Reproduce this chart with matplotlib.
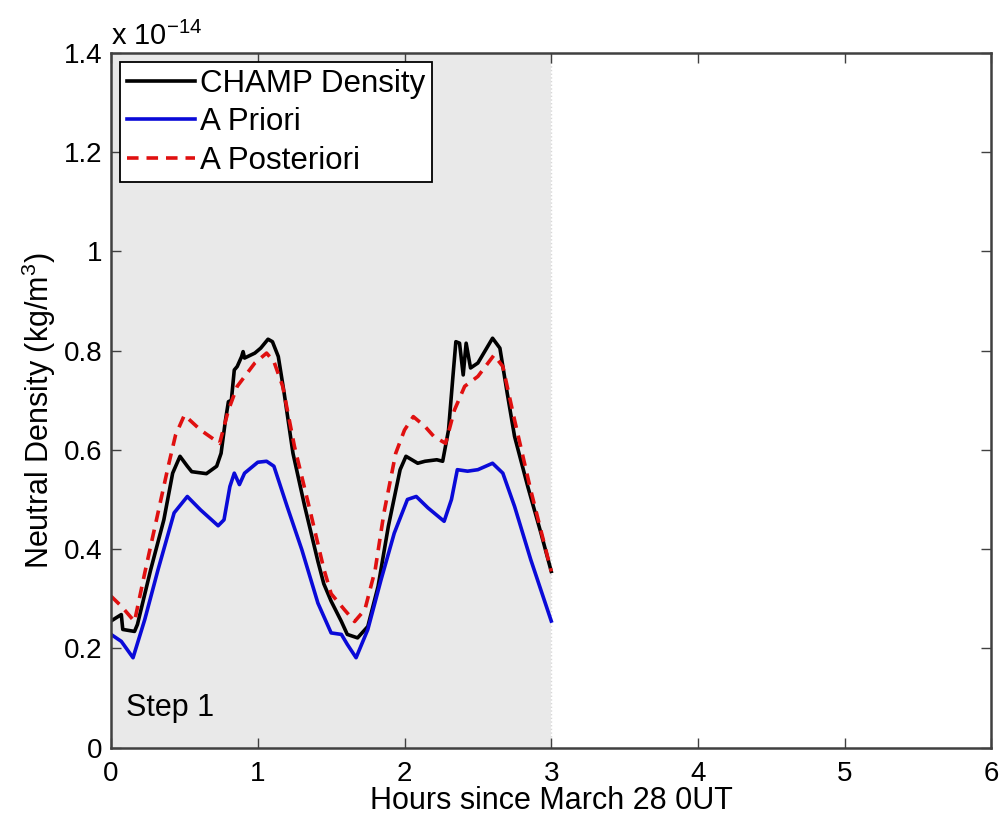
import numpy as np
import matplotlib
matplotlib.use('Agg')
import matplotlib.pyplot as plt

plt.rcParams['font.family'] = ['Liberation Sans', 'DejaVu Sans']
plt.rcParams['mathtext.fontset'] = 'custom'
plt.rcParams['mathtext.rm'] = 'Liberation Sans'
plt.rcParams['mathtext.it'] = 'Liberation Sans'

# density in units of 1e-14 kg/m^3, hours since March 28 0UT
champ_h = [0, 0.07, 0.08, 0.16, 0.18, 0.27, 0.36, 0.42, 0.47, 0.52, 0.55, 0.65, 0.72, 0.75, 0.78,
           0.80, 0.82, 0.84, 0.86, 0.89, 0.90, 0.91, 0.98, 1.02, 1.07, 1.10, 1.14, 1.18, 1.24, 1.32,
           1.41, 1.45, 1.50, 1.57, 1.61, 1.68, 1.75, 1.82, 1.89, 1.97, 2.01, 2.09, 2.14, 2.22, 2.26,
           2.30, 2.33, 2.35, 2.375, 2.40, 2.42, 2.45, 2.50, 2.60, 2.65, 2.70, 2.75, 2.84, 2.93, 3.0]
champ_v = [0.255, 0.268, 0.238, 0.234, 0.248, 0.358, 0.459, 0.553, 0.587, 0.567, 0.556, 0.552, 0.567,
           0.593, 0.66, 0.697, 0.70, 0.761, 0.768, 0.788, 0.798, 0.785, 0.795, 0.805, 0.823, 0.818,
           0.788, 0.714, 0.593, 0.486, 0.375, 0.33, 0.295, 0.254, 0.228, 0.221, 0.244, 0.325, 0.446,
           0.56, 0.587, 0.573, 0.577, 0.58, 0.577, 0.64, 0.748, 0.818, 0.815, 0.751, 0.815, 0.765,
           0.775, 0.825, 0.805, 0.714, 0.627, 0.526, 0.432, 0.355]

prior_h = [0, 0.07, 0.15, 0.23, 0.32, 0.43, 0.52, 0.61, 0.73, 0.77, 0.81, 0.84, 0.875, 0.91, 1.0,
           1.06, 1.11, 1.20, 1.30, 1.41, 1.50, 1.57, 1.61, 1.67, 1.75, 1.84, 1.93, 2.02, 2.08, 2.16,
           2.27, 2.32, 2.36, 2.43, 2.50, 2.60, 2.67, 2.75, 2.86, 3.0]
prior_v = [0.228, 0.214, 0.181, 0.258, 0.358, 0.473, 0.506, 0.479, 0.447, 0.459, 0.526, 0.553, 0.53,
           0.553, 0.575, 0.577, 0.567, 0.486, 0.399, 0.291, 0.231, 0.228, 0.208, 0.181, 0.238, 0.338,
           0.432, 0.50, 0.506, 0.483, 0.456, 0.50, 0.56, 0.557, 0.56, 0.573, 0.553, 0.486, 0.379, 0.255]

post_h = [0, 0.07, 0.16, 0.23, 0.30, 0.39, 0.44, 0.50, 0.61, 0.74, 0.80, 0.86, 0.98, 1.06, 1.11,
          1.17, 1.25, 1.36, 1.45, 1.50, 1.59, 1.66, 1.73, 1.80, 1.86, 1.94, 2.0, 2.06, 2.14, 2.20,
          2.28, 2.34, 2.41, 2.50, 2.61, 2.67, 2.75, 2.86, 3.0]
post_v = [0.305, 0.285, 0.254, 0.352, 0.446, 0.567, 0.63, 0.67, 0.64, 0.613, 0.68, 0.728, 0.775,
          0.795, 0.778, 0.728, 0.607, 0.473, 0.36, 0.31, 0.278, 0.254, 0.278, 0.358, 0.473, 0.593,
          0.64, 0.667, 0.647, 0.627, 0.613, 0.68, 0.728, 0.748, 0.791, 0.768, 0.66, 0.519, 0.355]

step_end = 3

fig = plt.figure(figsize=(10.02, 8.22), dpi=100)
ax = fig.add_axes([0.1108, 0.0906, 0.8787, 0.845])

ax.axvspan(0, step_end, color='#e9e9e9', zorder=0, lw=0)
ax.axvline(step_end, color='#d8d8d8', ls=':', lw=1, zorder=0.5)

ax.plot(champ_h, champ_v, color='black', lw=2.6, label='CHAMP Density')
ax.plot(prior_h, prior_v, color='#0a0ad8', lw=2.6, label='A Priori')
ax.plot(post_h, post_v, color='#e01010', lw=2.6, ls=(0, (3.2, 2.2)), label='A Posteriori')

ax.set_xlim(0, 6)
ax.set_ylim(0, 1.4)
ax.set_xticks(range(0, 7))
ax.set_yticks(np.arange(0, 1.41, 0.2))
ax.set_yticklabels(['0', '0.2', '0.4', '0.6', '0.8', '1', '1.2', '1.4'])
ax.tick_params(direction='in', top=True, right=True, length=7, width=1, labelsize=20,
               color='#404040')
ax.tick_params(axis='x', pad=10)
ax.tick_params(axis='y', pad=6)
for s in ax.spines.values():
    s.set_color('#404040')
    s.set_linewidth(1.8)

ax.set_xlabel('Hours since March 28 0UT', fontsize=22, labelpad=-1)
ax.set_ylabel('Neutral Density (kg/m$^3$)', fontsize=22)
ax.yaxis.set_label_coords(-0.06, 0.485)

ax.text(0.0, 1.003, r'x 10$^{-14}$', transform=ax.transAxes, fontsize=21, va='bottom', ha='left')
ax.text(0.1, 0.08, 'Step 1', fontsize=22, ha='left', va='center')

leg = ax.legend(loc='upper left', fontsize=22.5, handlelength=2.2, handletextpad=0.15,
                borderpad=0.2, labelspacing=0.28, fancybox=False, framealpha=1,
                borderaxespad=0.3)
leg.get_frame().set_edgecolor('black')
leg.get_frame().set_linewidth(1.3)

fig.savefig('out.png', dpi=100)
